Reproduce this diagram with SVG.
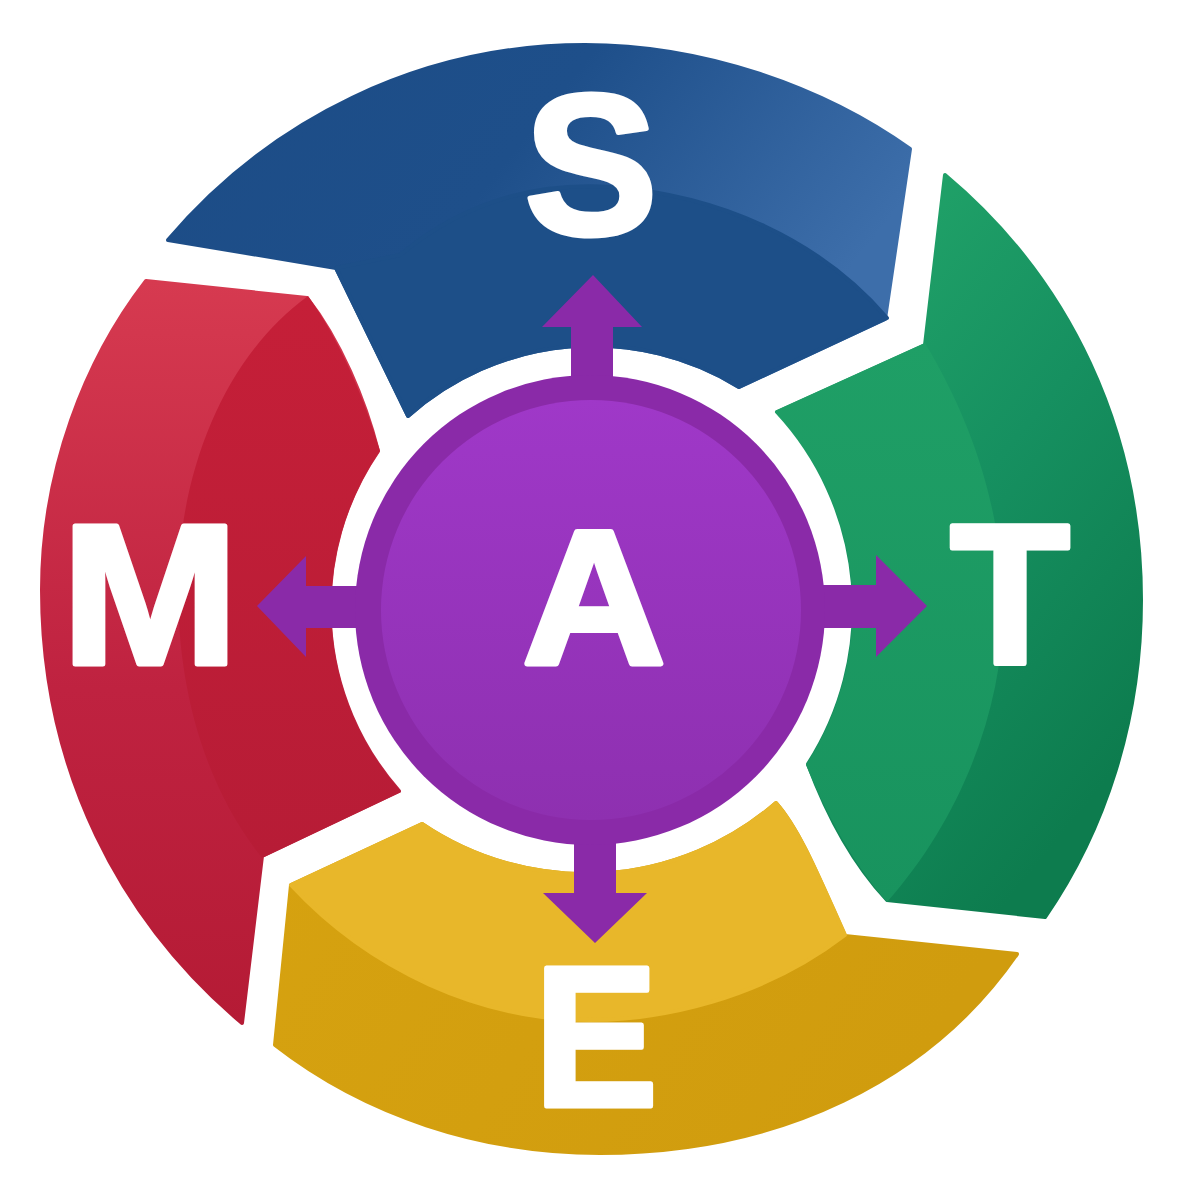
<svg xmlns="http://www.w3.org/2000/svg" width="1191" height="1190" viewBox="0 0 1191 1190">
<defs>
<linearGradient id="gb" x1="0" y1="0" x2="1" y2="0.4"><stop offset="0" stop-color="#1c4c86"/><stop offset="0.5" stop-color="#1e4f8a"/><stop offset="1" stop-color="#3d6eaa"/></linearGradient>
<linearGradient id="gg" x1="0" y1="0" x2="0.6" y2="1"><stop offset="0" stop-color="#25aa6c"/><stop offset="0.55" stop-color="#169060"/><stop offset="1" stop-color="#0d7c4e"/></linearGradient>
<linearGradient id="ggi" x1="0" y1="0" x2="0" y2="1"><stop offset="0" stop-color="#1f9f66"/><stop offset="1" stop-color="#18935e"/></linearGradient>
<linearGradient id="gy" x1="0" y1="0" x2="1" y2="0.3"><stop offset="0" stop-color="#d6a210"/><stop offset="1" stop-color="#d09c0e"/></linearGradient>
<linearGradient id="gr" x1="0" y1="0" x2="0" y2="1"><stop offset="0" stop-color="#d63a50"/><stop offset="0.55" stop-color="#bf2240"/><stop offset="1" stop-color="#b51b35"/></linearGradient>
<linearGradient id="gri" x1="0" y1="0" x2="0" y2="1"><stop offset="0" stop-color="#c51f38"/><stop offset="1" stop-color="#b71c36"/></linearGradient>
<linearGradient id="gp" x1="0" y1="0" x2="0" y2="1"><stop offset="0" stop-color="#9f38c8"/><stop offset="1" stop-color="#8e30b0"/></linearGradient>
</defs>
<style>
text{font-family:"Liberation Sans",Arial,sans-serif;font-weight:700;fill:#fff;text-anchor:middle;stroke:#fff;stroke-linejoin:round}
.l{font-size:200px;stroke-width:5px}
.a{fill:#8a2aa8}
.r{stroke-width:4px;stroke-linejoin:round}
</style>
<rect width="1191" height="1190" fill="#fff"/>
<g id="node-s">
<path class="r" stroke="url(#gb)" d="M168 240C270 120 420 45 585 45C700 45 820 85 910 149L885 319L739 387A278 278 0 0 0 408 416L336 268Z" fill="url(#gb)"/>
<path class="r" stroke="#1d4f88" d="M408 416L336 268L400 255C460 205 530 182 610 187C720 195 820 240 887 318L739 387A278 278 0 0 0 408 416Z" fill="#1d4f88"/>
<text class="l" x="591" y="234">S</text>
</g>
<g id="node-t">
<path class="r" stroke="url(#gg)" d="M945 175C1070 280 1141 430 1141 600C1141 720 1105 830 1045 917L887 900C850 860 825 810 808 764A288 288 0 0 0 777 412L925 345Z" fill="url(#gg)"/>
<path d="M775 411L925 343C965 410 1003 500 1003 610C1003 710 960 820 887 902C850 860 825 810 806 765A288 288 0 0 0 775 411Z" fill="url(#ggi)"/>
<text class="l" x="1010" y="664" textLength="120" lengthAdjust="spacingAndGlyphs">T</text>
</g>
<g id="node-e">
<path class="r" stroke="url(#gy)" d="M1017 954C930 1080 780 1153 600 1153C480 1153 365 1115 275 1045L291 885L422 824A291 291 0 0 0 776 803C800 830 820 880 845 936Z" fill="url(#gy)"/>
<path class="r" stroke="#e8b72a" d="M291 885L422 824A291 291 0 0 0 776 803C800 830 820 880 845 935C760 1000 660 1020 590 1020C480 1020 370 970 291 885Z" fill="#e8b72a"/>
<text class="l" x="596" y="1106" textLength="124" lengthAdjust="spacingAndGlyphs">E</text>
</g>
<g id="node-m">
<path class="r" stroke="url(#gr)" d="M242 1023C120 920 42 770 42 590C42 470 85 360 146 281L307 298C340 340 365 400 378 451A277 277 0 0 0 399 791L262 856Z" fill="url(#gr)"/>
<path d="M308 296C340 340 365 400 380 451A277 277 0 0 0 401 792L262 858C200 780 178 680 178 590C178 480 220 360 308 296Z" fill="url(#gri)"/>
<text class="l" x="150" y="664" textLength="178" lengthAdjust="spacingAndGlyphs">M</text>
</g>
<g id="connectors">
<path class="a" d="M593 275L642 327H613V400H571V327H542Z"/>
<path class="a" d="M927 606L876 657V628H800V585H876V555Z"/>
<path class="a" d="M595 943L543 893H574V820H616V893H647Z"/>
<path class="a" d="M257 606L306 556V586H380V628H306V657Z"/>
</g>
<g id="node-a">
<circle cx="590" cy="610" r="235" fill="#8a2aa8"/>
<circle cx="591" cy="610" r="210" fill="url(#gp)"/>
<text x="594" y="664" style="font-size:192px;stroke-width:6px" textLength="143" lengthAdjust="spacingAndGlyphs">A</text>
</g>
</svg>
